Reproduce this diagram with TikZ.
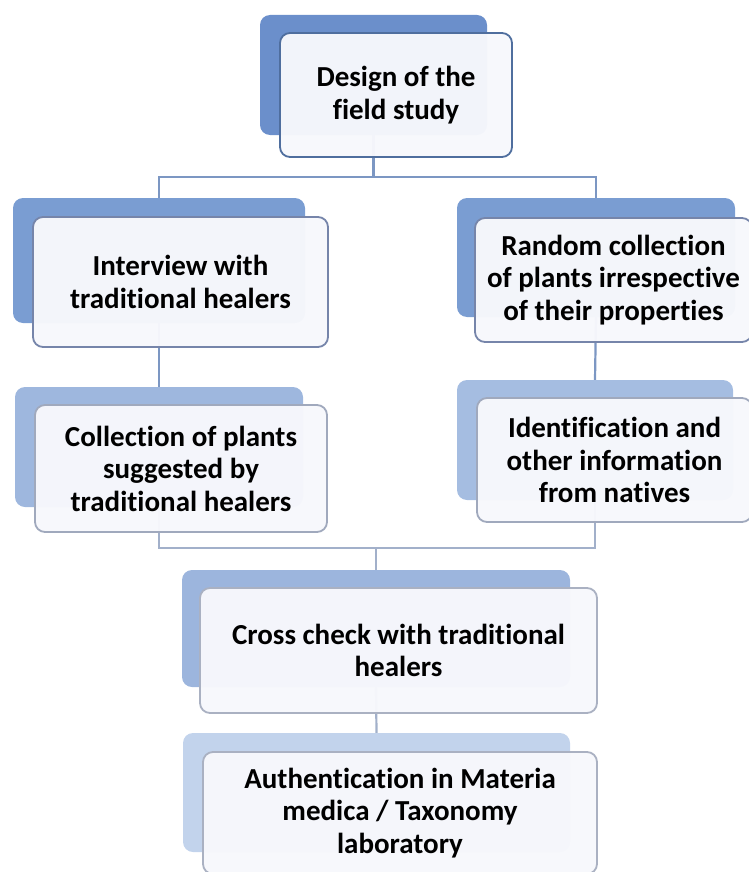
\documentclass[tikz,border=0pt]{standalone}
\usepackage{fontspec}
\setmainfont{Carlito}[Ligatures={NoCommon}, Contextuals={NoAlternate}]
\usetikzlibrary{backgrounds}
\definecolor{bkA}{HTML}{6B8FCB}
\definecolor{bkB}{HTML}{7A9DD2}
\definecolor{bkC}{HTML}{9EB7DE}
\definecolor{bkD}{HTML}{A5BDE1}
\definecolor{bkE}{HTML}{9CB5DD}
\definecolor{bkF}{HTML}{C2D3EC}
\definecolor{bdA}{HTML}{4F6E9E}
\definecolor{bdB}{HTML}{7685AA}
\definecolor{bdC}{HTML}{A0A9BD}
\definecolor{bdD}{HTML}{AAB1C2}
\definecolor{cnA}{HTML}{7C97C3}
\definecolor{cnB}{HTML}{A2B0CA}
\definecolor{frontfill}{HTML}{F7F8FC}
\tikzset{
  backbox/.style={rectangle, rounded corners=10pt, inner sep=0pt, draw=none},
  frontbox/.style={rectangle, rounded corners=10pt, inner sep=0pt, line width=1.8pt,
    fill=frontfill, fill opacity=0.97, draw opacity=1, text opacity=1, align=center,
    font=\fontsize{29}{32.5}\selectfont\bfseries},
  conn/.style={line width=2.2pt, line cap=rect}
}
\begin{document}
\begin{tikzpicture}[x=1pt,y=-1pt]
\useasboundingbox (0,0) rectangle (748,872);
% back boxes
\node[backbox, fill=bkA, minimum width=227pt, minimum height=120pt] (designback) at (373.5,75) {};
\node[backbox, fill=bkB, minimum width=292pt, minimum height=125pt] (interviewback) at (159,260.5) {};
\node[backbox, fill=bkC, minimum width=288pt, minimum height=120pt] (collectionback) at (159,447) {};
\node[backbox, fill=bkB, minimum width=278pt, minimum height=119pt] (randomback) at (596,257.5) {};
\node[backbox, fill=bkD, minimum width=276pt, minimum height=120pt] (identback) at (595,440) {};
\node[backbox, fill=bkE, minimum width=388pt, minimum height=117pt] (crossback) at (376,628.5) {};
\node[backbox, fill=bkF, minimum width=387pt, minimum height=119pt] (authback) at (376.5,792.5) {};
% connectors
\coordinate (topj) at (373.5,177);
\coordinate (botj) at (376,548);
\begin{pgfonlayer}{background}
\draw[conn, draw=cnA] (designback.south) -- (topj);
\draw[conn, draw=cnA] (interviewback.north) |- (topj) -| (randomback.north);
\draw[conn, draw=cnA] (interviewback.south) -- (collectionback.north);
\draw[conn, draw=cnA] (randomback.south) -- (identback.north);
\draw[conn, draw=cnB] (collectionback.south) |- (botj) -| (identback.south);
\draw[conn, draw=cnB] (botj) -- (crossback.north);
\draw[conn, draw=cnB] (crossback.south) -- (authback.north);
\end{pgfonlayer}
% front boxes
\node[frontbox, draw=bdA, minimum width=232pt, minimum height=124pt] (design) at (396,95) {Design of the\\field study};
\node[frontbox, draw=bdB, minimum width=295pt, minimum height=130pt] (interview) at (180.5,282) {Interview with\\traditional healers};
\node[frontbox, draw=bdC, minimum width=292pt, minimum height=127pt] (collection) at (181,468.5) {Collection of plants\\suggested by\\traditional healers};
\node[frontbox, draw=bdB, minimum width=277pt, minimum height=124pt] (random) at (613.5,280) {Random collection\\of plants irrespective\\of their properties};
\node[frontbox, draw=bdC, minimum width=275pt, minimum height=124pt] (ident) at (614.5,460) {Identification and\\other information\\from natives};
\node[frontbox, draw=bdD, minimum width=397pt, minimum height=125pt] (cross) at (398.5,650.5) {Cross check with traditional\\healers};
\node[frontbox, draw=bdD, minimum width=394pt, minimum height=122pt] (auth) at (400,813) {Authentication in Materia\\medica / Taxonomy\\laboratory};
\end{tikzpicture}
\end{document}
